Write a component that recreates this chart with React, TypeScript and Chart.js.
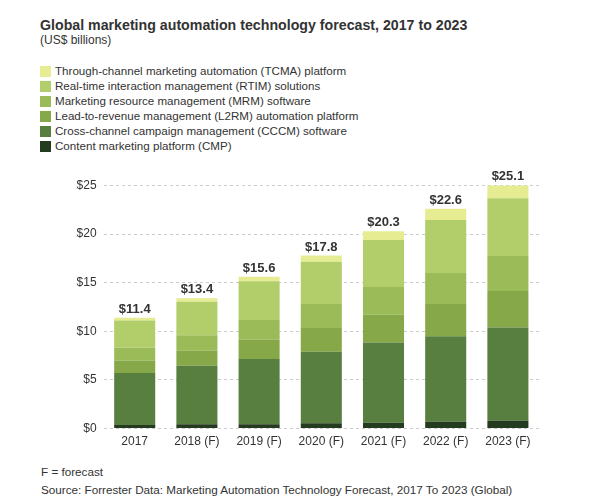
import React, { useEffect, useRef } from "react";
import { Chart, registerables } from "chart.js";

Chart.register(...registerables);

const years = ["2017", "2018 (F)", "2019 (F)", "2020 (F)", "2021 (F)", "2022 (F)", "2023 (F)"];
const totals = [11.4, 13.4, 15.6, 17.8, 20.3, 22.6, 25.1];
const cmp = [0.35, 0.45, 0.45, 0.55, 0.6, 0.7, 0.8];
const cccm = [5.35, 6.0, 6.7, 7.35, 8.25, 8.8, 9.6];
const l2rm = [1.3, 1.55, 2.0, 2.45, 2.85, 3.3, 3.75];
const mrm = [1.3, 1.6, 2.0, 2.45, 2.85, 3.2, 3.6];
const rtim = [2.8, 3.45, 4.0, 4.35, 4.85, 5.45, 5.95];
const tcma = [0.3, 0.35, 0.45, 0.65, 0.9, 1.15, 1.4];
const yTicks = [0, 5, 10, 15, 20, 25];

const seriesNames = [
  "Through-channel marketing automation (TCMA) platform",
  "Real-time interaction management (RTIM) solutions",
  "Marketing resource management (MRM) software",
  "Lead-to-revenue management (L2RM) automation platform",
  "Cross-channel campaign management (CCCM) software",
  "Content marketing platform (CMP)",
];
const seriesColors = ["#e6ec92", "#b1ce6a", "#9abb57", "#86a849", "#587f3f", "#253b20"];

const FONT = '"Liberation Sans", Arial, Helvetica, sans-serif';

export default function App() {
  const ref = useRef<HTMLCanvasElement>(null);

  useEffect(() => {
    const canvas = ref.current;
    if (!canvas) return;
    const seriesData = [tcma, rtim, mrm, l2rm, cccm, cmp];
    const datasets = seriesData
      .map((d, i) => ({
        label: seriesNames[i],
        data: d,
        backgroundColor: seriesColors[i],
        borderWidth: 0,
        categoryPercentage: 1,
        barPercentage: 0.66,
      }))
      .reverse();

    const totalLabels = {
      id: "totalLabels",
      afterDatasetsDraw(chart: any) {
        const ctx = chart.ctx;
        const last = chart.getDatasetMeta(chart.data.datasets.length - 1);
        ctx.save();
        ctx.font = `bold 13px ${FONT}`;
        ctx.fillStyle = "#333333";
        ctx.textAlign = "center";
        ctx.textBaseline = "bottom";
        last.data.forEach((bar: any, i: number) => {
          ctx.fillText(`$${totals[i].toFixed(1)}`, bar.x, bar.y - 2);
        });
        ctx.restore();
      },
    };

    const chart = new Chart(canvas, {
      type: "bar",
      data: { labels: years, datasets },
      plugins: [totalLabels],
      options: {
        responsive: false,
        animation: false,
        layout: { padding: { left: 0, right: 54, top: 25.5, bottom: 0 } },
        plugins: { legend: { display: false }, tooltip: { enabled: false } },
        scales: {
          x: {
            stacked: true,
            grid: { display: false, drawTicks: false },
            border: { display: false },
            ticks: { color: "#333333", font: { family: FONT, size: 12 }, padding: 6 },
            afterFit: (s: any) => {
              s.height = 31.5;
            },
          },
          y: {
            stacked: true,
            min: 0,
            max: 25,
            afterBuildTicks: (s: any) => {
              s.ticks = yTicks.map((v) => ({ value: v }));
            },
            grid: { color: "#cccccc", drawTicks: false, lineWidth: 1 },
            border: { display: false, dash: [3, 3] },
            ticks: {
              color: "#333333",
              font: { family: FONT, size: 12 },
              padding: 7,
              callback: (v: any) => `$${v}`,
            },
            afterFit: (s: any) => {
              s.width = 103.6;
            },
          },
        },
      },
    });
    return () => chart.destroy();
  }, []);

  const legendRows = seriesNames.map((n, i) => (
    <div key={n} style={{ position: "absolute", left: 40, top: 65 + i * 15, height: 12, display: "flex", alignItems: "center" }}>
      <div style={{ width: 11, height: 11, background: seriesColors[i], marginRight: 4 }} />
      <span style={{ fontSize: 11.6, lineHeight: "12px", color: "#333", whiteSpace: "nowrap" }}>{n}</span>
    </div>
  ));

  return (
    <div style={{ position: "fixed", left: 0, top: 0, width: 593, height: 501, background: "#fff", fontFamily: FONT, color: "#333" }}>
      <div style={{ position: "absolute", left: 40, top: 18, fontSize: 14.2, fontWeight: "bold", lineHeight: "14px", whiteSpace: "nowrap" }}>
        Global marketing automation technology forecast, 2017 to 2023
      </div>
      <div style={{ position: "absolute", left: 40, top: 34, fontSize: 12, lineHeight: "13px" }}>(US$ billions)</div>
      {legendRows}
      <canvas ref={ref} width={593} height={300} style={{ position: "absolute", left: 0, top: 160, width: 593, height: 300 }} />
      <div style={{ position: "absolute", left: 41, top: 465, fontSize: 11.7, lineHeight: "13px", whiteSpace: "nowrap" }}>F = forecast</div>
      <div style={{ position: "absolute", left: 41, top: 483, fontSize: 11.7, lineHeight: "13px", whiteSpace: "nowrap" }}>
        Source: Forrester Data: Marketing Automation Technology Forecast, 2017 To 2023 (Global)
      </div>
    </div>
  );
}
